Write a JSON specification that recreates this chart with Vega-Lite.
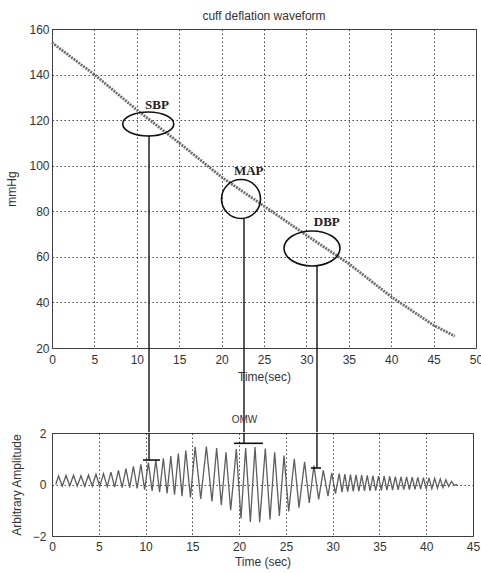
{
  "$schema": "https://vega.github.io/schema/vega-lite/v6.json",
  "padding": {"left": 5, "top": 9, "right": 0, "bottom": 2},
  "background": "white",
  "bounds": "flush",
  "spacing": 85,
  "datasets": {
    "pressure": [
      {"t": 0, "p": 154}, {"t": 5, "p": 140}, {"t": 10, "p": 124.5}, {"t": 15, "p": 110},
      {"t": 20, "p": 95}, {"t": 25, "p": 82.3}, {"t": 30, "p": 69.5}, {"t": 35, "p": 57},
      {"t": 40, "p": 42.5}, {"t": 45, "p": 30}, {"t": 47.5, "p": 25.2}
    ],
    "markers": [
      {"label": "SBP", "t": 11.44, "cx": 11.35, "cy": 118.3, "ybottom": 113, "lx": 12.38, "ly": 126.6, "xb": 10.37, "xb1": 9.73, "xb2": 11.54, "amp": 0.95},
      {"label": "MAP", "t": 22.64, "cx": 22.29, "cy": 85.4, "ybottom": 77, "lx": 23.2, "ly": 97.7, "xb": 20.52, "xb1": 19.45, "xb2": 22.55, "amp": 1.6},
      {"label": "DBP", "t": 31.25, "cx": 30.66, "cy": 63.7, "ybottom": 56, "lx": 32.4, "ly": 75.3, "xb": 28.32, "xb1": 27.68, "xb2": 28.75, "amp": 0.64}
    ],
    "omw": [
      {"t": 0.4, "a": 0.0},
      {"t": 0.7, "a": 0.33}, {"t": 1.1, "a": -0.06},
      {"t": 1.5, "a": 0.35}, {"t": 1.9, "a": -0.05},
      {"t": 2.3, "a": 0.36}, {"t": 2.7, "a": -0.06},
      {"t": 3.1, "a": 0.34}, {"t": 3.5, "a": -0.07},
      {"t": 3.9, "a": 0.37}, {"t": 4.3, "a": -0.06},
      {"t": 4.7, "a": 0.4}, {"t": 5.1, "a": -0.08},
      {"t": 5.5, "a": 0.42}, {"t": 5.9, "a": -0.08},
      {"t": 6.3, "a": 0.48}, {"t": 6.7, "a": -0.1},
      {"t": 7.1, "a": 0.55}, {"t": 7.5, "a": -0.12},
      {"t": 7.9, "a": 0.62}, {"t": 8.3, "a": -0.12},
      {"t": 8.7, "a": 0.7}, {"t": 9.1, "a": -0.15},
      {"t": 9.5, "a": 0.78}, {"t": 9.9, "a": -0.2},
      {"t": 10.3, "a": 0.85}, {"t": 10.7, "a": -0.25},
      {"t": 11.1, "a": 0.95}, {"t": 11.5, "a": -0.3},
      {"t": 11.9, "a": 1.02}, {"t": 12.3, "a": -0.35},
      {"t": 12.7, "a": 1.1}, {"t": 13.1, "a": -0.4},
      {"t": 13.5, "a": 1.2}, {"t": 13.9, "a": -0.45},
      {"t": 14.3, "a": 1.32}, {"t": 14.8, "a": -0.5},
      {"t": 15.3, "a": 1.46}, {"t": 15.9, "a": -0.56},
      {"t": 16.5, "a": 1.47}, {"t": 17.1, "a": -0.66},
      {"t": 17.6, "a": 1.42}, {"t": 18.1, "a": -0.8},
      {"t": 18.6, "a": 1.25}, {"t": 19.1, "a": -1.0},
      {"t": 19.7, "a": 1.38}, {"t": 20.2, "a": -1.32},
      {"t": 20.7, "a": 1.42}, {"t": 21.2, "a": -1.45},
      {"t": 21.7, "a": 1.45}, {"t": 22.2, "a": -1.46},
      {"t": 22.8, "a": 1.4}, {"t": 23.3, "a": -1.36},
      {"t": 23.8, "a": 1.25}, {"t": 24.3, "a": -1.22},
      {"t": 24.8, "a": 1.12}, {"t": 25.3, "a": -1.05},
      {"t": 25.9, "a": 1.0}, {"t": 26.4, "a": -0.9},
      {"t": 27.0, "a": 0.88}, {"t": 27.5, "a": -0.72},
      {"t": 28.0, "a": 0.73}, {"t": 28.5, "a": -0.58},
      {"t": 29.0, "a": 0.55}, {"t": 29.5, "a": -0.45},
      {"t": 29.9, "a": 0.45}, {"t": 30.3, "a": -0.35},
      {"t": 30.7, "a": 0.42}, {"t": 31.0, "a": -0.3},
      {"t": 31.3, "a": 0.4}, {"t": 31.6, "a": -0.28},
      {"t": 31.9, "a": 0.38}, {"t": 32.2, "a": -0.27},
      {"t": 32.5, "a": 0.37}, {"t": 32.8, "a": -0.26},
      {"t": 33.1, "a": 0.36}, {"t": 33.4, "a": -0.25},
      {"t": 33.7, "a": 0.35}, {"t": 34.0, "a": -0.25},
      {"t": 34.3, "a": 0.34}, {"t": 34.6, "a": -0.24},
      {"t": 34.9, "a": 0.33}, {"t": 35.2, "a": -0.23},
      {"t": 35.5, "a": 0.33}, {"t": 35.8, "a": -0.22},
      {"t": 36.1, "a": 0.32}, {"t": 36.4, "a": -0.22},
      {"t": 36.7, "a": 0.31}, {"t": 37.0, "a": -0.21},
      {"t": 37.3, "a": 0.3}, {"t": 37.6, "a": -0.2},
      {"t": 37.9, "a": 0.3}, {"t": 38.2, "a": -0.2},
      {"t": 38.5, "a": 0.29}, {"t": 38.8, "a": -0.19},
      {"t": 39.1, "a": 0.28}, {"t": 39.4, "a": -0.18},
      {"t": 39.7, "a": 0.27}, {"t": 40.0, "a": -0.17},
      {"t": 40.3, "a": 0.26}, {"t": 40.6, "a": -0.16},
      {"t": 40.9, "a": 0.24}, {"t": 41.2, "a": -0.14},
      {"t": 41.5, "a": 0.22}, {"t": 41.8, "a": -0.12},
      {"t": 42.1, "a": 0.18}, {"t": 42.4, "a": -0.08},
      {"t": 42.7, "a": 0.12}, {"t": 43.0, "a": -0.03},
      {"t": 43.3, "a": 0.0}
    ]
  },
  "vconcat": [
    {
      "width": 424,
      "height": 319,
      "title": {"text": "cuff deflation waveform", "fontSize": 12, "fontWeight": "normal", "font": "Liberation Sans", "color": "#333", "offset": 0},
      "layer": [
        {
          "data": {"name": "pressure"},
          "mark": {"type": "line", "color": "#6e6e6e", "strokeWidth": 2.8, "strokeDash": [2, 1]},
          "encoding": {
            "x": {"field": "t", "type": "quantitative", "scale": {"domain": [0, 50], "nice": false, "zero": false},
              "axis": {"values": [0, 5, 10, 15, 20, 25, 30, 35, 40, 45, 50], "title": "Time(sec)", "labelFlush": false, "labelOverlap": false, "labelPadding": 6, "titlePadding": 6, "grid": true}},
            "y": {"field": "p", "type": "quantitative", "scale": {"domain": [20, 160], "nice": false, "zero": false},
              "axis": {"values": [20, 40, 60, 80, 100, 120, 140, 160], "title": "mmHg", "labelPadding": 3, "titlePadding": 10, "grid": true}}
          }
        },
        {
          "data": {"name": "markers"},
          "mark": {"type": "rule", "clip": false, "color": "#111", "strokeWidth": 1.4},
          "encoding": {
            "x": {"field": "t", "type": "quantitative"},
            "y": {"field": "ybottom", "type": "quantitative"},
            "y2": {"datum": -17}
          }
        },
        {
          "data": {"name": "markers"},
          "mark": {"type": "point", "filled": false, "stroke": "#111", "strokeWidth": 1.6, "size": 400, "opacity": 1},
          "encoding": {
            "x": {"field": "cx", "type": "quantitative"},
            "y": {"field": "cy", "type": "quantitative"},
            "shape": {"field": "label", "type": "nominal", "legend": null,
              "scale": {"domain": ["SBP", "MAP", "DBP"],
                "range": [
                  "M -2.55 0 A 2.55 1.2 0 1 0 2.55 0 A 2.55 1.2 0 1 0 -2.55 0 Z",
                  "M -1.95 0 A 1.95 1.95 0 1 0 1.95 0 A 1.95 1.95 0 1 0 -1.95 0 Z",
                  "M -2.8 0 A 2.8 1.75 0 1 0 2.8 0 A 2.8 1.75 0 1 0 -2.8 0 Z"
                ]}}
          }
        },
        {
          "data": {"name": "markers"},
          "mark": {"type": "text", "font": "Liberation Serif", "fontWeight": "bold", "fontSize": 13, "color": "#222"},
          "encoding": {
            "x": {"field": "lx", "type": "quantitative"},
            "y": {"field": "ly", "type": "quantitative"},
            "text": {"field": "label", "type": "nominal"}
          }
        }
      ]
    },
    {
      "width": 421,
      "height": 103,
      "title": {"text": "OMW", "fontSize": 10, "fontWeight": "normal", "font": "Liberation Sans", "color": "#333", "offset": 2, "dx": -18},
      "layer": [
        {
          "data": {"name": "omw"},
          "mark": {"type": "line", "color": "#5e5e5e", "strokeWidth": 1.3},
          "encoding": {
            "x": {"field": "t", "type": "quantitative", "scale": {"domain": [0, 45], "nice": false, "zero": false},
              "axis": {"values": [0, 5, 10, 15, 20, 25, 30, 35, 40, 45], "title": "Time (sec)", "labelFlush": false, "labelOverlap": false, "labelPadding": 5, "titlePadding": 4, "grid": true}},
            "y": {"field": "a", "type": "quantitative", "scale": {"domain": [-2, 2], "nice": false, "zero": false},
              "axis": {"values": [-2, 0, 2], "title": "Arbitrary Amplitude", "labelPadding": 6, "titlePadding": 9, "grid": true}}
          }
        },
        {
          "data": {"name": "markers"},
          "mark": {"type": "rule", "clip": false, "color": "#111", "strokeWidth": 1.4},
          "encoding": {
            "x": {"field": "xb", "type": "quantitative"},
            "y": {"field": "amp", "type": "quantitative"},
            "y2": {"datum": 2}
          }
        },
        {
          "data": {"name": "markers"},
          "mark": {"type": "rule", "clip": false, "color": "#111", "strokeWidth": 1.6},
          "encoding": {
            "x": {"field": "xb1", "type": "quantitative"},
            "x2": {"field": "xb2"},
            "y": {"field": "amp", "type": "quantitative"}
          }
        }
      ]
    }
  ],
  "config": {
    "view": {"stroke": "#444", "strokeWidth": 1},
    "axis": {
      "labelFont": "Liberation Sans", "labelFontSize": 12, "labelColor": "#333",
      "titleFont": "Liberation Sans", "titleFontSize": 12, "titleFontWeight": "normal", "titleColor": "#333",
      "domain": false, "ticks": false,
      "gridColor": "#333", "gridDash": [1.5, 2.5], "gridOpacity": 0.9, "gridWidth": 1
    }
  }
}
